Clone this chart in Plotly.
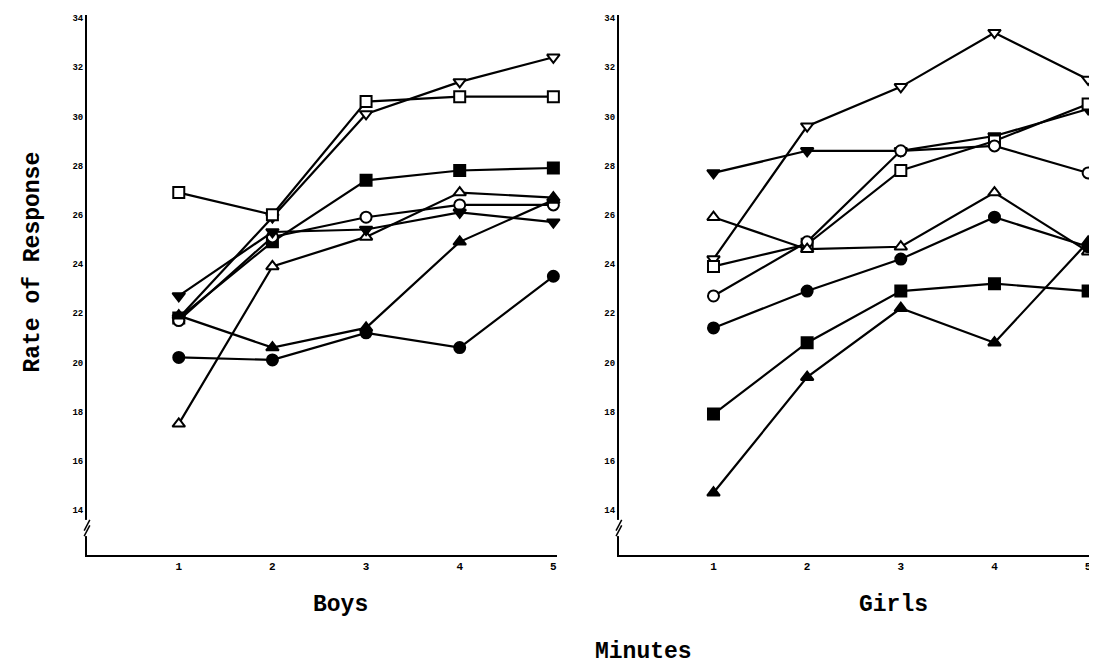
import plotly.graph_objects as go

minutes = [1, 2, 3, 4, 5]
x_ticks = ["1", "2", "3", "4", "5"]
y_ticks = [14, 16, 18, 20, 22, 24, 26, 28, 30, 32, 34]

# Boys (left panel)
boys = {
    "tri_down_open": [21.8, 25.9, 30.1, 31.4, 32.4],
    "square_open":   [26.9, 26.0, 30.6, 30.8, 30.8],
    "square_fill":   [21.8, 24.9, 27.4, 27.8, 27.9],
    "tri_up_open":   [17.5, 23.9, 25.1, 26.9, 26.7],
    "circle_open":   [21.7, 25.1, 25.9, 26.4, 26.4],
    "tri_down_fill": [22.7, 25.3, 25.4, 26.1, 25.7],
    "tri_up_fill":   [21.9, 20.6, 21.4, 24.9, 26.6],
    "circle_fill":   [20.2, 20.1, 21.2, 20.6, 23.5],
}
# Girls (right panel)
girls = {
    "tri_down_open": [24.2, 29.6, 31.2, 33.4, 31.5],
    "tri_down_fill": [27.7, 28.6, 28.6, 29.2, 30.3],
    "square_open":   [23.9, 24.8, 27.8, 29.0, 30.5],
    "circle_open":   [22.7, 24.9, 28.6, 28.8, 27.7],
    "tri_up_open":   [25.9, 24.6, 24.7, 26.9, 24.5],
    "circle_fill":   [21.4, 22.9, 24.2, 25.9, 24.7],
    "square_fill":   [17.9, 20.8, 22.9, 23.2, 22.9],
    "tri_up_fill":   [14.7, 19.4, 22.2, 20.8, 24.9],
}

styles = {
    "tri_down_open": ("triangle-down", "white"),
    "square_open":   ("square", "white"),
    "square_fill":   ("square", "black"),
    "tri_up_open":   ("triangle-up", "white"),
    "circle_open":   ("circle", "white"),
    "tri_down_fill": ("triangle-down", "black"),
    "tri_up_fill":   ("triangle-up", "black"),
    "circle_fill":   ("circle", "black"),
}

fig = go.Figure()
for panel, data, xa, ya in [("Boys", boys, "x", "y"), ("Girls", girls, "x2", "y2")]:
    for name, vals in data.items():
        sym, fill = styles[name]
        fig.add_trace(go.Scatter(
            x=minutes, y=vals, mode="lines+markers", name=f"{panel} {name}",
            xaxis=xa, yaxis=ya, showlegend=False, cliponaxis=False,
            line=dict(color="black", width=2.2),
            marker=dict(symbol=sym, size=11, color=fill,
                        line=dict(color="black", width=2)),
        ))

font = dict(family="Liberation Mono, Courier New, monospace", color="black")
xcommon = dict(showgrid=False, zeroline=False, showline=True, linecolor="black",
               linewidth=2, ticks="", tickvals=minutes,
               ticktext=[f"<b>{t}</b>" for t in x_ticks],
               tickfont=dict(size=11, **font))
ycommon = dict(showgrid=False, zeroline=False, showline=True, linecolor="black",
               linewidth=2, ticks="", range=[12.17, 34.12], tickvals=y_ticks,
               ticktext=[f"<b>{t}</b>" for t in y_ticks],
               tickfont=dict(size=9, **font))

title_font = dict(size=23, **font)

# page body has a small margin, so the figure is sized to fit the 1097x668 window
fig.update_layout(
    width=1089, height=660,
    margin=dict(l=79, r=5, t=7, b=113),
    paper_bgcolor="white", plot_bgcolor="white",
    xaxis=dict(domain=[0, 0.4687], range=[0.02, 5.04], anchor="y", **xcommon),
    yaxis=dict(domain=[0, 1], anchor="x", **ycommon),
    xaxis2=dict(domain=[0.5303, 1.0], range=[-0.01, 5.02], anchor="y2", **xcommon),
    yaxis2=dict(domain=[0, 1], anchor="x2", **ycommon),
    font=font,
    annotations=[
        dict(text="<b>Rate of Response</b>", x=-0.054, y=0.543, xref="paper", yref="paper",
             xanchor="center", yanchor="middle",
             textangle=-90, showarrow=False, font=title_font),
        dict(text="<b>Boys</b>", x=0.253, y=-0.093, xref="paper", yref="paper",
             xanchor="center", yanchor="middle", showarrow=False, font=title_font),
        dict(text="<b>Girls</b>", x=0.804, y=-0.093, xref="paper", yref="paper",
             xanchor="center", yanchor="middle", showarrow=False, font=title_font),
        dict(text="<b>Minutes</b>", x=0.555, y=-0.18, xref="paper", yref="paper",
             xanchor="center", yanchor="middle", showarrow=False, font=title_font),
    ],
)

# axis-break marks near the bottom of each y axis
for xd, yd in [("x domain", "y domain"), ("x2 domain", "y2 domain")]:
    fig.add_shape(type="line", xref=xd, yref=yd, x0=0, x1=0, y0=0.035, y1=0.065,
                  line=dict(color="white", width=4))
    fig.add_shape(type="line", xref=xd, yref=yd, x0=-0.006, x1=0.006, y0=0.045, y1=0.065,
                  line=dict(color="black", width=1.5))
    fig.add_shape(type="line", xref=xd, yref=yd, x0=-0.006, x1=0.006, y0=0.035, y1=0.055,
                  line=dict(color="black", width=1.5))

fig.write_html("out.html")
